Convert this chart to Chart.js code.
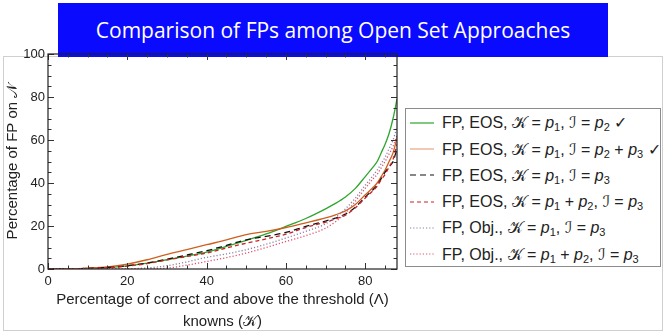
<!DOCTYPE html>
<html>
<head>
<meta charset="utf-8">
<script src="https://cdn.jsdelivr.net/npm/chart.js@4.4.0/dist/chart.umd.min.js"></script>
<style>
  html, body { margin: 0; padding: 0; background: #fff; }
  #wrap { position: relative; width: 666px; height: 334px; overflow: hidden; font-family: "Liberation Sans", Arial, sans-serif; }
  #panel { position: absolute; left: 3px; top: 56px; width: 658px; height: 273px; border: 1.5px solid #cfcfcf; box-sizing: content-box; }
  #banner { position: absolute; left: 58px; top: 3px; width: 550px; height: 54px; background: #0a0aff; color: #fff;
            font-family: "Open Sans", sans-serif; font-size: 21px; line-height: 54px; text-align: center; }
  #chart { position: absolute; left: 0; top: 0; }
  #legend { position: absolute; left: 405px; top: 108px; width: 254px; height: 157px; border: 1px solid #8c8c8c; background: #fff; }
  .row { position: absolute; left: 0; height: 20px; display: flex; align-items: center; font-size: 16px; color: #222; white-space: nowrap; }
  .row svg { margin-left: 4px; margin-right: 8px; }
  .row sub { font-size: 11px; vertical-align: -3px; line-height: 0; }
  .scr { font-family: "DejaVu Sans", "Noto Sans", serif; font-style: normal; }
</style>
</head>
<body>
<div id="wrap">
  <div id="panel"></div>
  <div id="banner"></div>
  <canvas id="chart" width="666" height="334"></canvas>
  <div id="legend"></div>
</div>
<script>
// ---- data ----
const chartTitle = "Comparison of FPs among Open Set Approaches";
const xLabelLines = ["Percentage of correct and above the threshold (\u039B)", "knowns (\uD835\uDCA6)"];
const yLabel = "Percentage of FP on \uD835\uDCA9";
const xTickValues = [0, 20, 40, 60, 80];
const yTickValues = [0, 20, 40, 60, 80, 100];

const xValues   = [0, 5, 10, 15, 20, 25, 30, 35, 40, 45, 50, 55, 60, 65, 70, 72.5, 75, 77.5, 80, 82, 83, 84, 85, 86, 87, 88];
const eosP2     = [0, 0, 0.3, 0.7, 1.5, 2.7, 4.3, 6.0, 7.9, 10.5, 13.3, 16.3, 19.8, 23.5, 28.0, 30.5, 33.5, 37.5, 43.0, 47.5, 50.0, 54.0, 58.0, 63.0, 70.0, 79.0];
const eosP2P3   = [0, 0, 0.4, 1.0, 2.3, 4.3, 6.8, 9.0, 11.3, 13.5, 16.0, 17.5, 19.3, 21.5, 23.8, 25.2, 27.0, 30.0, 34.5, 38.0, 40.0, 43.0, 46.0, 50.0, 54.0, 61.0];
const eosP3     = [0, 0, 0.3, 0.7, 1.5, 2.8, 4.6, 6.5, 8.5, 11.0, 13.6, 15.2, 17.0, 19.8, 22.3, 23.7, 25.5, 28.8, 33.5, 37.0, 39.0, 42.0, 45.0, 47.5, 50.0, 56.0];
const eosP1P2P3 = [0, 0, 0.3, 0.6, 1.3, 2.5, 4.2, 5.8, 7.4, 9.8, 12.0, 14.0, 16.2, 19.3, 21.8, 23.3, 25.0, 28.5, 33.0, 36.5, 38.5, 41.5, 44.0, 47.5, 51.0, 58.0];
const objP3     = [0, 0, 0, 0, 0.1, 0.5, 1.5, 3.3, 5.4, 7.0, 9.0, 11.5, 14.4, 17.5, 21.0, 24.0, 28.0, 33.0, 39.0, 43.5, 46.0, 49.0, 52.0, 56.0, 60.0, 66.0];
const objP1P2P3 = [0, 0, 0, 0, 0, 0.1, 0.4, 1.8, 3.5, 5.3, 7.4, 10.0, 12.8, 15.5, 19.0, 22.0, 26.0, 31.5, 37.5, 42.0, 44.0, 47.0, 50.0, 53.5, 57.0, 62.0];

const legendHTML = [
  'FP, EOS, <span class="scr">\uD835\uDCA6</span> = <i>p</i><sub>1</sub>, <span class="scr">\u2110</span> = <i>p</i><sub>2</sub> \u2713',
  'FP, EOS, <span class="scr">\uD835\uDCA6</span> = <i>p</i><sub>1</sub>, <span class="scr">\u2110</span> = <i>p</i><sub>2</sub> + <i>p</i><sub>3</sub> \u2713',
  'FP, EOS, <span class="scr">\uD835\uDCA6</span> = <i>p</i><sub>1</sub>, <span class="scr">\u2110</span> = <i>p</i><sub>3</sub>',
  'FP, EOS, <span class="scr">\uD835\uDCA6</span> = <i>p</i><sub>1</sub> + <i>p</i><sub>2</sub>, <span class="scr">\u2110</span> = <i>p</i><sub>3</sub>',
  'FP, Obj., <span class="scr">\uD835\uDCA6</span> = <i>p</i><sub>1</sub>, <span class="scr">\u2110</span> = <i>p</i><sub>3</sub>',
  'FP, Obj., <span class="scr">\uD835\uDCA6</span> = <i>p</i><sub>1</sub> + <i>p</i><sub>2</sub>, <span class="scr">\u2110</span> = <i>p</i><sub>3</sub>'
];
const seriesNames = [
  'FP, EOS, K = p1, I = p2', 'FP, EOS, K = p1, I = p2 + p3', 'FP, EOS, K = p1, I = p3',
  'FP, EOS, K = p1 + p2, I = p3', 'FP, Obj., K = p1, I = p3', 'FP, Obj., K = p1 + p2, I = p3'
];
const seriesValues = [eosP2, eosP2P3, eosP3, eosP1P2P3, objP3, objP1P2P3];
const seriesColors = ['#2ea52e', '#cf5f1f', '#111111', '#cc2222', '#8a80a6', '#e0506a'];
const legendColors = ['#2ea52e', '#e8a47c', '#111111', '#cc2222', '#8a80a6', '#e0506a'];
const seriesDash   = [[], [], [6, 4], [4, 3], [1.2, 2], [1.2, 2]];

// ---- banner & legend ----
document.getElementById('banner').textContent = chartTitle;
const leg = document.getElementById('legend');
legendHTML.forEach((html, i) => {
  const row = document.createElement('div');
  row.className = 'row';
  row.style.top = (3.7 + i * 26.3) + 'px';
  const dash = seriesDash[i].length ? seriesDash[i].join(',') : 'none';
  row.innerHTML = '<svg width="24" height="6"><line x1="0" y1="3" x2="24" y2="3" stroke="' + legendColors[i] +
    '" stroke-width="1.2" stroke-dasharray="' + dash + '"/></svg><span>' + html + '</span>';
  leg.appendChild(row);
});

// ---- chart ----
const datasets = seriesValues.map((vals, i) => ({
  label: seriesNames[i],
  data: xValues.map((x, j) => ({ x: x, y: vals[j] })),
  borderColor: seriesColors[i],
  borderWidth: 1.3,
  borderDash: seriesDash[i],
  pointRadius: 0,
  fill: false,
  cubicInterpolationMode: 'monotone',
  order: 6 - i
}));

const frameTicks = {
  id: 'frameTicks',
  afterDatasetsDraw(chart) {
    const { ctx, chartArea: a, scales: { x, y } } = chart;
    ctx.save();
    ctx.strokeStyle = '#333';
    ctx.lineWidth = 1;
    for (let v = 0; v <= 88; v += 5) {
      const px = Math.round(x.getPixelForValue(v)) + 0.5;
      const len = v % 20 === 0 ? 6 : 3.5;
      ctx.beginPath();
      ctx.moveTo(px, a.bottom); ctx.lineTo(px, a.bottom - len);
      ctx.moveTo(px, a.top); ctx.lineTo(px, a.top + len);
      ctx.stroke();
    }
    for (let v = 0; v <= 100; v += 5) {
      const py = Math.round(y.getPixelForValue(v)) + 0.5;
      const len = v % 20 === 0 ? 6 : 3.5;
      ctx.beginPath();
      ctx.moveTo(a.left, py); ctx.lineTo(a.left + len, py);
      ctx.moveTo(a.right, py); ctx.lineTo(a.right - len, py);
      ctx.stroke();
    }
    ctx.lineWidth = 1.2;
    ctx.strokeStyle = '#222';
    ctx.strokeRect(a.left, a.top, a.right - a.left, a.bottom - a.top);
    ctx.restore();
  }
};

new Chart(document.getElementById('chart'), {
  type: 'line',
  data: { datasets: datasets },
  options: {
    responsive: false,
    animation: false,
    devicePixelRatio: 1,
    layout: { padding: { left: 0, top: 54, right: 269, bottom: 0 } },
    plugins: { legend: { display: false }, tooltip: { enabled: false } },
    scales: {
      x: {
        type: 'linear', min: 0, max: 88,
        afterFit(s) { s.height = 65; },
        afterBuildTicks(s) { s.ticks = xTickValues.map(v => ({ value: v })); },
        grid: { display: false, drawTicks: false },
        border: { display: false },
        ticks: { padding: 5, color: '#222', font: { family: 'Liberation Sans', size: 13 }, maxRotation: 0 },
        title: { display: true, text: xLabelLines, color: '#222',
                 font: { family: 'Liberation Sans', size: 15, lineHeight: 1.47 }, padding: { top: 0, bottom: 1 } }
      },
      y: {
        type: 'linear', min: 0, max: 100,
        afterFit(s) { s.width = 48; },
        afterBuildTicks(s) { s.ticks = yTickValues.map(v => ({ value: v })); },
        grid: { display: false, drawTicks: false },
        border: { display: false },
        ticks: { padding: 3, color: '#222', font: { family: 'Liberation Sans', size: 13 } },
        title: { display: true, text: yLabel, color: '#222',
                 font: { family: 'Liberation Sans', size: 15, lineHeight: 1.2 }, padding: { top: 4, bottom: 0 } }
      }
    }
  },
  plugins: [frameTicks]
});
</script>
</body>
</html>
